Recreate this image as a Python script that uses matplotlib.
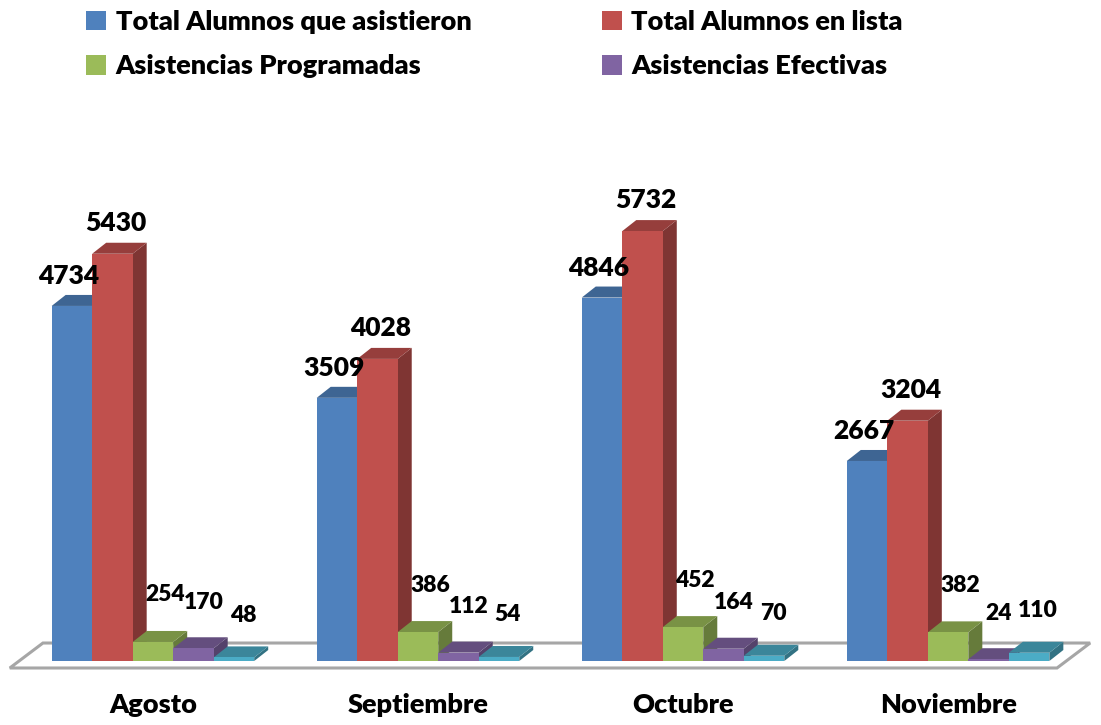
import numpy as np
import matplotlib.pyplot as plt
from matplotlib.patches import Polygon, Patch
from matplotlib.colors import to_rgb

plt.rcParams['font.family'] = ['Lato', 'DejaVu Sans']
plt.rcParams['font.weight'] = 'heavy'

# Data
months = ['Agosto', 'Septiembre', 'Octubre', 'Noviembre']
series_names = ['Total Alumnos que asistieron', 'Total Alumnos en lista',
                'Asistencias Programadas', 'Asistencias Efectivas', '']
asistieron = [4734, 3509, 4846, 2667]
en_lista = [5430, 4028, 5732, 3204]
programadas = [254, 386, 452, 382]
efectivas = [170, 112, 164, 24]
otros = [48, 54, 70, 110]
series = [asistieron, en_lista, programadas, efectivas, otros]

colors = ['#4F81BD', '#C0504D', '#9BBB59', '#8064A2', '#4BACC6']
# label offsets (pixels) relative to top-centre of each front face
label_off = [(-3, 30), (3, 31), (12, 47), (10, 46), (9, 42)]


def shade(c, f):
    r, g, b = to_rgb(c)
    return (r * f, g * f, b * f)


fig = plt.figure(figsize=(11.01, 7.25), dpi=100)
ax = fig.add_axes([0, 0, 1, 1])
ax.set_xlim(-0.577, 3.577)
ax.set_ylim(-853, 8813)
ax.axis('off')

px_x = 265.0        # pixels per x unit
px_y = 0.075        # pixels per y unit
dx = 14 / px_x      # depth offsets
dy = 11 / px_y
w = 40.5 / px_x

# floor
floor = Polygon([(-0.54, -93), (3.411, -93), (3.536, 240), (-0.415, 240)],
                closed=True, facecolor='white', edgecolor='#A6A6A6', lw=2.2, zorder=1)
ax.add_patch(floor)

x = np.arange(len(months))
handles = []
for j, (vals, col) in enumerate(zip(series, colors)):
    xs = x + (j - 2) * w
    bars = ax.bar(xs, vals, width=w, color=col, zorder=3 + j * 3 + 2, linewidth=0)
    for b, v in zip(bars, vals):
        x0, x1 = b.get_x(), b.get_x() + b.get_width()
        top = b.get_height()
        side = Polygon([(x1, 0), (x1 + dx, dy), (x1 + dx, top + dy), (x1, top)],
                       closed=True, facecolor=shade(col, 0.66), lw=0, zorder=3 + j * 3)
        lid = Polygon([(x0, top), (x1, top), (x1 + dx, top + dy), (x0 + dx, top + dy)],
                      closed=True, facecolor=shade(col, 0.78), lw=0, zorder=3 + j * 3 + 1)
        ax.add_patch(side)
        ax.add_patch(lid)
        ox, oy = label_off[j]
        big = v > 1000
        ax.annotate(str(v), ((x0 + x1) / 2, top), xytext=(ox, oy),
                    textcoords='offset pixels', ha='center', va='center',
                    fontsize=19 if big else 16.5, color='black', zorder=30)
    if series_names[j]:
        handles.append(Patch(facecolor=col, label=series_names[j]))

for i, m in enumerate(months):
    ax.text(i, -590, m, ha='center', va='center', fontsize=19.5)

fig.legend(handles=[handles[0], handles[2], handles[1], handles[3]], ncol=2,
           loc='upper left', bbox_to_anchor=(0.056, 1.02), frameon=False,
           fontsize=19.5, handlelength=0.75, handleheight=0.75, handletextpad=0.35,
           columnspacing=4.8, labelspacing=0.75)

fig.savefig('out.png', dpi=100)
